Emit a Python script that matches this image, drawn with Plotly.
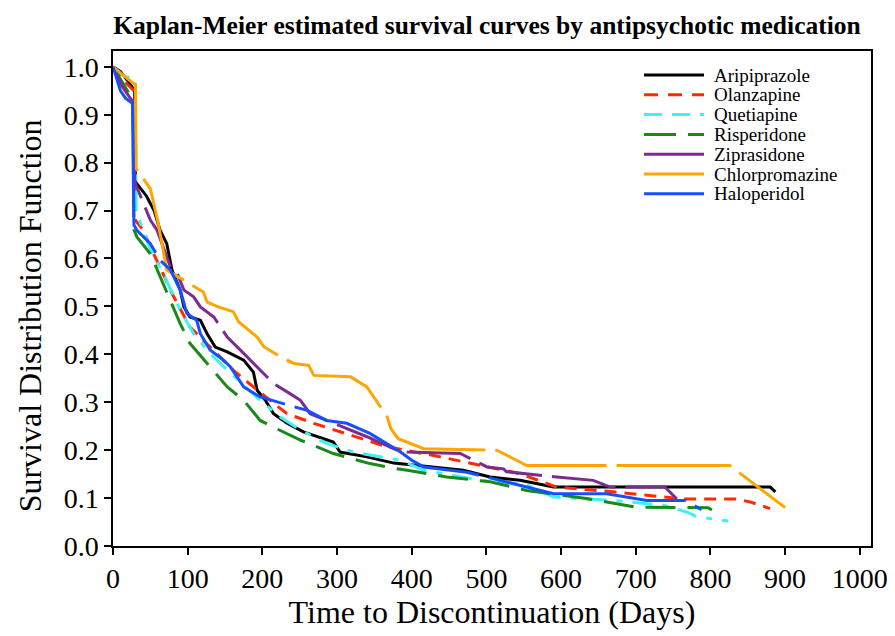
import plotly.graph_objects as go

# ---------------- data ----------------
series_names = ["Aripiprazole", "Olanzapine", "Quetiapine", "Risperidone",
                "Ziprasidone", "Chlorpromazine", "Haloperidol"]

aripiprazole_t = [0, 10, 20, 29, 30, 40, 45, 55, 63, 72, 79, 90, 95, 103, 117, 126, 137, 153, 175, 188,
                  193, 204, 215, 233, 255, 295, 304, 340, 376, 469, 505, 545, 590, 880, 887]
aripiprazole_s = [1.0, 0.99, 0.97, 0.95, 0.76, 0.74, 0.73, 0.70, 0.659, 0.631, 0.576, 0.534, 0.499, 0.478,
                  0.471, 0.443, 0.415, 0.405, 0.388, 0.363, 0.325, 0.304, 0.276, 0.256, 0.238, 0.217, 0.196,
                  0.186, 0.173, 0.158, 0.144, 0.137, 0.123, 0.123, 0.113]

olanzapine_t = [0, 15, 28, 30, 40, 50, 63, 79, 103, 130, 161, 188, 233, 269, 318, 367, 429, 469, 505, 545,
                594, 670, 764, 835, 853, 880]
olanzapine_s = [1.0, 0.97, 0.95, 0.68, 0.66, 0.624, 0.582, 0.527, 0.457, 0.415, 0.367, 0.332, 0.276, 0.256,
                0.231, 0.207, 0.189, 0.175, 0.164, 0.151, 0.123, 0.113, 0.098, 0.098, 0.092, 0.078]

quetiapine_t = [0, 15, 30, 31, 40, 50, 70, 90, 108, 130, 153, 175, 197, 224, 251, 286, 322, 385, 416, 492,
                550, 590, 670, 737, 768, 782, 824]
quetiapine_s = [1.0, 0.98, 0.975, 0.70, 0.66, 0.62, 0.56, 0.492, 0.443, 0.402, 0.367, 0.335, 0.304, 0.269,
                0.242, 0.214, 0.196, 0.179, 0.158, 0.137, 0.130, 0.102, 0.095, 0.085, 0.071, 0.061, 0.052]

risperidone_t = [0, 15, 27, 28, 32, 50, 63, 77, 90, 103, 126, 153, 175, 197, 224, 251, 295, 344, 376, 394,
                 447, 487, 505, 554, 634, 701, 797, 802]
risperidone_s = [1.0, 0.96, 0.93, 0.66, 0.645, 0.610, 0.562, 0.513, 0.464, 0.423, 0.381, 0.332, 0.304, 0.262,
                 0.241, 0.221, 0.193, 0.172, 0.162, 0.158, 0.144, 0.137, 0.134, 0.116, 0.099, 0.081, 0.080, 0.075]

ziprasidone_t = [0, 12, 25, 28, 29, 40, 50, 59, 77, 86, 95, 108, 117, 135, 144, 153, 175, 193, 215, 237,
                 251, 264, 291, 340, 380, 394, 465, 487, 501, 523, 527, 594, 643, 666, 739, 755]
ziprasidone_s = [1.0, 0.96, 0.93, 0.93, 0.76, 0.72, 0.68, 0.659, 0.582, 0.569, 0.534, 0.520, 0.499, 0.478,
                 0.457, 0.436, 0.402, 0.374, 0.339, 0.318, 0.304, 0.276, 0.259, 0.228, 0.200, 0.196, 0.193,
                 0.175, 0.165, 0.161, 0.155, 0.144, 0.137, 0.123, 0.123, 0.098]

chlorpromazine_t = [0, 30, 31, 50, 61, 72, 121, 126, 141, 161, 168, 193, 202, 224, 242, 262, 269, 318, 340,
                    349, 358, 367, 372, 382, 416, 487, 514, 554, 826, 900]
chlorpromazine_s = [1.0, 0.962, 0.788, 0.746, 0.670, 0.576, 0.530, 0.509, 0.499, 0.489, 0.468, 0.436, 0.416,
                    0.395, 0.381, 0.377, 0.356, 0.353, 0.332, 0.311, 0.290, 0.270, 0.245, 0.224, 0.203,
                    0.200, 0.200, 0.168, 0.168, 0.080]

haloperidol_t = [0, 10, 17, 26, 28, 32, 50, 63, 77, 90, 99, 112, 117, 130, 148, 157, 175, 197, 228, 260,
                 286, 313, 344, 367, 385, 400, 416, 474, 536, 590, 661, 715, 766, 788]
haloperidol_s = [1.0, 0.95, 0.934, 0.924, 0.67, 0.659, 0.631, 0.596, 0.576, 0.534, 0.485, 0.471, 0.443,
                 0.409, 0.388, 0.374, 0.332, 0.311, 0.297, 0.283, 0.262, 0.256, 0.235, 0.214, 0.196, 0.179,
                 0.165, 0.154, 0.130, 0.109, 0.109, 0.095, 0.095, 0.076]

x_ticks = [0, 100, 200, 300, 400, 500, 600, 700, 800, 900, 1000]
y_ticks = [0.0, 0.1, 0.2, 0.3, 0.4, 0.5, 0.6, 0.7, 0.8, 0.9, 1.0]

# ---------------- styles ----------------
times_t = [aripiprazole_t, olanzapine_t, quetiapine_t, risperidone_t, ziprasidone_t, chlorpromazine_t, haloperidol_t]
surv_s = [aripiprazole_s, olanzapine_s, quetiapine_s, risperidone_s, ziprasidone_s, chlorpromazine_s, haloperidol_s]
colors = ["#000000", "#FF2A00", "#3FF0F5", "#178A17", "#7B2D8E", "#FFA500", "#1450FF"]
dashes = ["solid", "12px,8px", "20px,10px,6px,10px", "30px,12px", "65px,10px", "115px,10px", "200px,10px"]
legend_dashes = ["solid", "14px,10px", "18px,10px", "32px,12px", "solid", "solid", "solid"]

FONT = "Liberation Serif, Times New Roman, serif"

fig = go.Figure()
for name, t, s, c, d in zip(series_names, times_t, surv_s, colors, dashes):
    fig.add_trace(go.Scatter(x=t, y=s, mode="lines", name=name, showlegend=False,
                             line=dict(color=c, width=3, dash=d)))

# manual legend (compact rows like the reference)
shapes = []
annotations = []
for i, (name, c, d) in enumerate(zip(series_names, colors, legend_dashes)):
    yy = 0.9515 - i * 0.0400
    shapes.append(dict(type="line", xref="paper", yref="paper", x0=0.7005, x1=0.7797, y0=yy, y1=yy,
                       line=dict(color=c, width=3, dash=d)))
    annotations.append(dict(xref="paper", yref="paper", x=0.790, y=yy, xanchor="left", yanchor="middle",
                            text=name, showarrow=False, font=dict(family=FONT, size=19, color="#000000")))

# y axis title (placed slightly below the plot centre as in the reference)
annotations.append(dict(xref="paper", yref="paper", x=-0.1095, y=0.466, xanchor="center", yanchor="middle",
                        text="Survival Distribution Function", textangle=-90, showarrow=False,
                        font=dict(family=FONT, size=32, color="#000000")))

fig.update_layout(
    template="none",
    width=887, height=628,
    margin=dict(l=105, r=24, t=43, b=90, autoexpand=False),
    paper_bgcolor="white", plot_bgcolor="white",
    title=dict(text="<b>Kaplan-Meier estimated survival curves by antipsychotic medication</b>",
               font=dict(family=FONT, size=25.5, color="#000000"), automargin=False,
               x=0.540, xanchor="center", xref="container", y=0.973, yanchor="middle", yref="container"),
    shapes=shapes,
    annotations=annotations,
    showlegend=False,
)

fig.update_xaxes(range=[0, 1015], tickmode="array", tickvals=x_ticks, automargin=False,
                 ticks="outside", ticklen=7, tickwidth=1.5, tickcolor="#000000",
                 showline=True, linecolor="#000000", linewidth=1.5, mirror=True,
                 showgrid=False, zeroline=False,
                 tickfont=dict(family=FONT, size=28, color="#000000"),
                 title=dict(text="Time to Discontinuation (Days)", standoff=4,
                            font=dict(family=FONT, size=32, color="#000000")))
fig.update_yaxes(range=[0, 1.033], tickmode="array", tickvals=y_ticks, tickformat=".1f", automargin=False,
                 ticks="outside", ticklen=7, tickwidth=1.5, tickcolor="#000000",
                 showline=True, linecolor="#000000", linewidth=1.5, mirror=True,
                 showgrid=False, zeroline=False,
                 tickfont=dict(family=FONT, size=28, color="#000000"))

fig.write_html("out.html")
